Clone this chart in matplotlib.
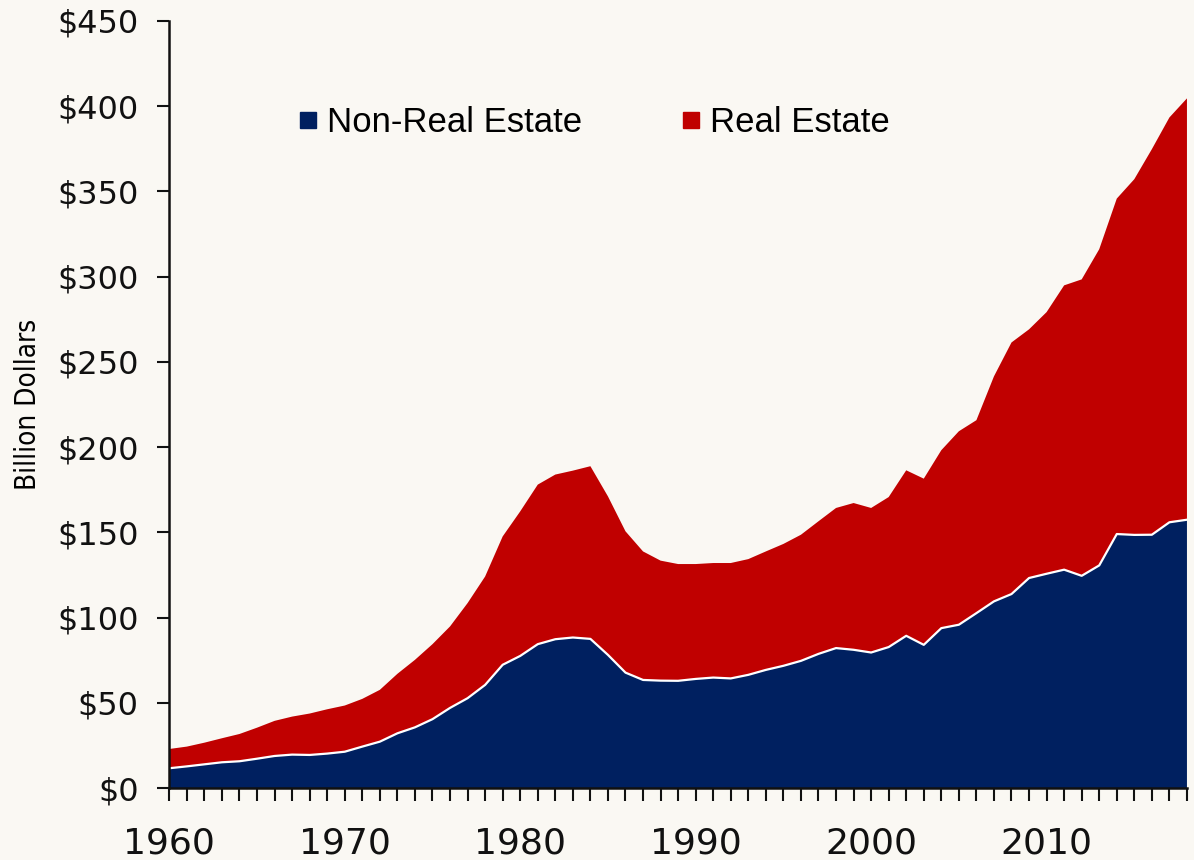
import matplotlib
matplotlib.use("Agg")
from matplotlib import pyplot as plt
from matplotlib.lines import Line2D
from matplotlib.ticker import StrMethodFormatter, MultipleLocator

# Years shown on the chart
years = list(range(1960, 2019))

# Non-real estate (billion dollars)
non_real_estate = [
    11.6, 12.7, 13.9, 15.1, 15.7, 17.2, 18.8, 19.6, 19.4, 20.2,
    21.3, 24.3, 27.2, 32.1, 35.6, 40.4, 47.0, 52.7, 60.5, 72.3,
    77.5, 84.4, 87.3, 88.3, 87.5, 78.1, 67.7, 63.4, 63.0, 62.9,
    64.0, 64.8, 64.3, 66.4, 69.3, 71.7, 74.6, 78.7, 82.1, 81.1,
    79.5, 82.7, 89.3, 84.0, 93.8, 95.8, 102.6, 109.5, 113.8, 123.2,
    125.7, 128.1, 124.5, 130.6, 149.0, 148.5, 148.6, 155.9, 157.4,
]

# Real estate (billion dollars), stacked on top
real_estate = [
    11.3, 11.6, 12.7, 14.1, 16.0, 18.2, 20.6, 22.3, 24.3, 26.0,
    27.1, 28.0, 30.4, 34.9, 39.6, 44.0, 47.8, 55.8, 63.6, 75.3,
    84.8, 93.6, 96.6, 97.9, 101.3, 93.0, 82.9, 75.4, 70.4, 68.5,
    67.4, 67.2, 67.7, 67.9, 69.5, 71.5, 74.0, 77.8, 82.2, 86.1,
    84.8, 88.0, 97.1, 97.5, 104.4, 113.5, 113.2, 132.0, 147.6, 145.9,
    153.5, 166.8, 173.9, 185.5, 196.8, 208.7, 226.2, 237.5, 247.2,
]

labels = ["Non-Real Estate", "Real Estate"]
navy = "#002060"
red = "#C00000"
bg = "#FAF8F3"

fig = plt.figure(figsize=(11.94, 8.60), dpi=100, facecolor=bg)
ax = fig.add_axes([0.1418, 0.0837, 0.9941 - 0.1418, 0.9756 - 0.0837])
ax.set_facecolor(bg)

ax.stackplot(years, non_real_estate, real_estate, colors=[navy, red], linewidth=0)
# thin white line on the border between the two areas
ax.plot(years, non_real_estate, color="white", lw=1.6)

ax.set_xlim(1960, 2018)
ax.set_ylim(0, 450)

ax.xaxis.set_major_locator(MultipleLocator(10))
ax.xaxis.set_minor_locator(MultipleLocator(1))
ax.yaxis.set_major_locator(MultipleLocator(50))
ax.yaxis.set_major_formatter(StrMethodFormatter("${x:,.0f}"))

for side in ["top", "right"]:
    ax.spines[side].set_visible(False)
for side in ["left", "bottom"]:
    ax.spines[side].set_linewidth(1.8)
    ax.spines[side].set_color("#111111")

ax.tick_params(axis="y", length=9, width=1.5, pad=13, labelsize=23, colors="#111111")
ax.tick_params(axis="x", which="both", length=9, width=1.5, pad=19, labelsize=26, colors="#111111", direction="out")
ax.tick_params(axis="x", which="minor", labelsize=0)

ax.set_ylabel("Billion Dollars", family=["DejaVu Sans"], stretch="condensed",
              fontsize=20)
ax.yaxis.set_label_coords(-0.125, 0.5)

handles = [Line2D([], [], marker="s", ls="", color=c, markersize=12) for c in [navy, red]]
leg = ax.legend(handles, labels, ncol=2, frameon=False, loc="upper left",
                bbox_to_anchor=(0.09, 0.93), prop={"family": "Liberation Sans", "size": 25},
                handletextpad=0.1, columnspacing=2.7, handlelength=0.9)

fig.savefig("out.png", dpi=100, facecolor=bg)
